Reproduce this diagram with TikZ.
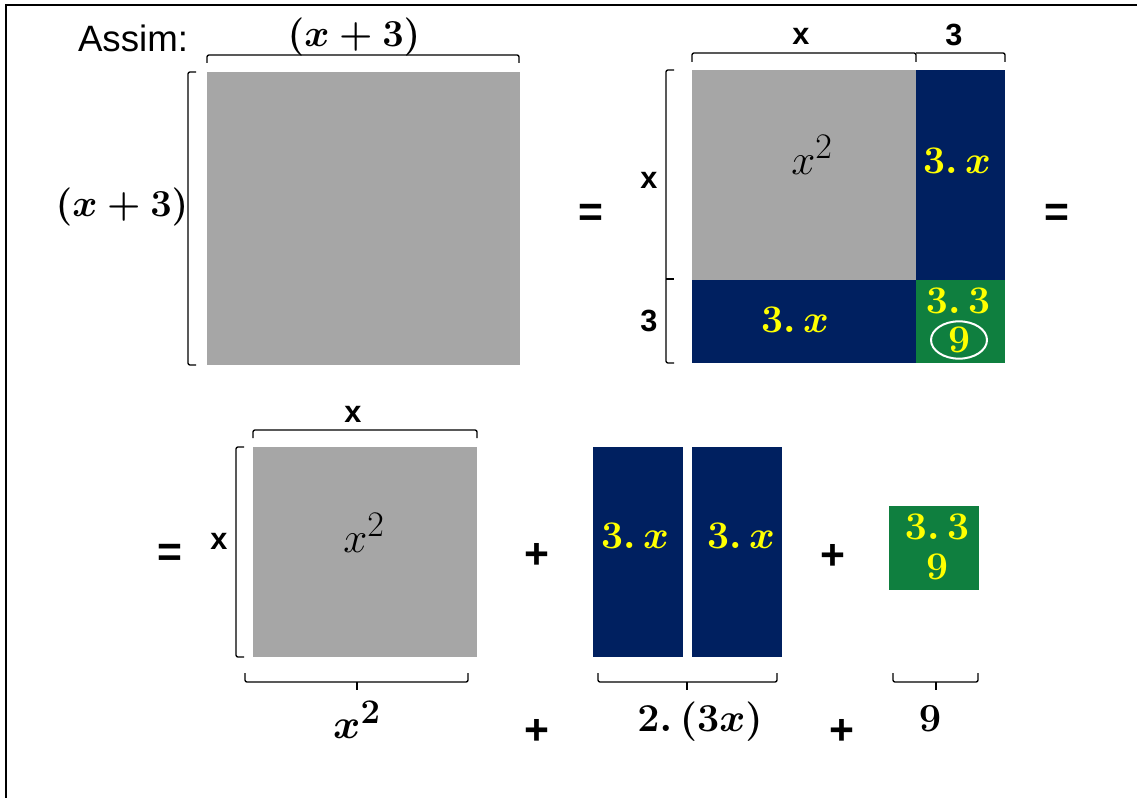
\documentclass[tikz,border=0pt]{standalone}
\usepackage{fontspec}
\setsansfont{Liberation Sans}
\definecolor{gfill}{HTML}{A6A6A6}
\definecolor{navy}{HTML}{002060}
\definecolor{grn}{HTML}{0F7F3F}
\definecolor{yel}{HTML}{FFFF00}
\newcommand{\mbig}[2]{\scalebox{#1}{#2}}
\tikzset{
  sflab/.style={font=\sffamily\bfseries\fontsize{23}{26}\selectfont, inner sep=0pt},
  opsign/.style={font=\sffamily\bfseries\fontsize{32}{36}\selectfont, inner sep=0pt},
  ylab/.style={text=yel, font=\fontsize{24.88}{30}\selectfont\boldmath, inner sep=0pt},
  mlab/.style={font=\fontsize{24.88}{30}\selectfont, inner sep=0pt},
  bmlab/.style={font=\fontsize{24.88}{30}\selectfont\boldmath, inner sep=0pt},
  brk/.style={line width=1pt, rounded corners=1.5pt},
}
\begin{document}
\begin{tikzpicture}[x=0.75pt,y=-0.75pt]
\useasboundingbox (0,0) rectangle (1137,798);
\draw[line width=1.6pt] (6,800) -- (6,5) -- (1140,5);

% ---------- top left ----------
\node[font=\sffamily\fontsize{27.5}{30}\selectfont, inner sep=0pt] (assim) at (133,38) {Assim:};
\fill[gfill] (207,72) rectangle (520,365);
\draw[brk] (207,63) -- (207,55) -- (519,55) -- (519,63);
\draw[brk] (196,72) -- (188,72) -- (188,365) -- (196,365);
\node[bmlab] (topxp) at (354,37) {\mbig{1.15}{$(x+3)$}};
\node[bmlab] (leftxp) at (122,207) {\mbig{1.15}{$(x+3)$}};

\node[opsign] (eq1) at (591,215) {=};

% ---------- top right composite ----------
\fill[gfill] (692,70) rectangle (916,280);
\fill[navy] (916,70) rectangle (1005,280);
\fill[navy] (692,280) rectangle (916,363);
\fill[grn] (916,280) rectangle (1005,363);
\draw[brk] (692,62) -- (692,53) -- (916,53) -- (916,62);
\draw[brk] (916,53) -- (1005,53) -- (1005,62);
\draw[brk] (674,70) -- (666,70) -- (666,363) -- (674,363);
\draw[brk] (666,279) -- (674,279);
\node[sflab] (tx) at (801,36) {x};
\node[sflab] (t3) at (954,35) {3};
\node[sflab] (lx) at (649,180) {x};
\node[sflab] (l3) at (649,321) {3};
\node[mlab] (csq) at (812,155) {\mbig{1.3}{$x^2$}};
\node[ylab] (cr) at (957,161) {\mbig{1.18}{$3.\,x$}};
\node[ylab] (cb) at (795,320) {\mbig{1.18}{$3.\,x$}};
\node[ylab] (c33) at (958,301) {\mbig{1.18}{$3.\,3$}};
\node[ylab] (c9) at (959,340) {\mbig{1.18}{$9$}};
\draw[white, line width=1.5pt] (c9) ellipse [x radius=21pt, y radius=14pt];

\node[opsign] (eq2) at (1057,215) {=};

% ---------- bottom row ----------
\node[opsign] (eq3) at (170,555) {=};
\fill[gfill] (253,447) rectangle (477,657);
\draw[brk] (253,438) -- (253,430) -- (477,430) -- (477,438);
\draw[brk] (244,447) -- (236,447) -- (236,657) -- (244,657);
\node[sflab] (bx) at (353,414) {x};
\node[sflab] (blx) at (219,541) {x};
\node[mlab] (bsq) at (364,533) {\mbig{1.3}{$x^2$}};

\node[opsign] (p1) at (537,556) {+};
\fill[navy] (593,447) rectangle (683,657);
\fill[navy] (692,447) rectangle (782,657);
\node[ylab] (n1) at (635,536) {\mbig{1.18}{$3.\,x$}};
\node[ylab] (n2) at (741,536) {\mbig{1.18}{$3.\,x$}};

\node[opsign] (p2) at (833,557) {+};
\fill[grn] (889,506) rectangle (979,590);
\node[ylab] (g33) at (937,527) {\mbig{1.18}{$3.\,3$}};
\node[ylab] (g9) at (937,567) {\mbig{1.18}{$9$}};

% bottom braces
\draw[brk] (245,673) -- (245,682) -- (468,682) -- (468,673);
\draw[brk] (357,682) -- (357,690);
\draw[brk] (598,673) -- (598,682) -- (777,682) -- (777,673);
\draw[brk] (687,682) -- (687,690);
\draw[brk] (893,673) -- (893,682) -- (978,682) -- (978,673);
\draw[brk] (936,682) -- (936,690);

\node[bmlab] (r1) at (357,720) {\mbig{1.25}{$x^2$}};
\node[opsign] (p3) at (537,732) {+};
\node[bmlab] (r2) at (700,722) {\mbig{1.19}{$2.\,(3x)$}};
\node[opsign] (p4) at (842,732) {+};
\node[bmlab] (r3) at (930,719) {\mbig{1.2}{$9$}};
\end{tikzpicture}
\end{document}
